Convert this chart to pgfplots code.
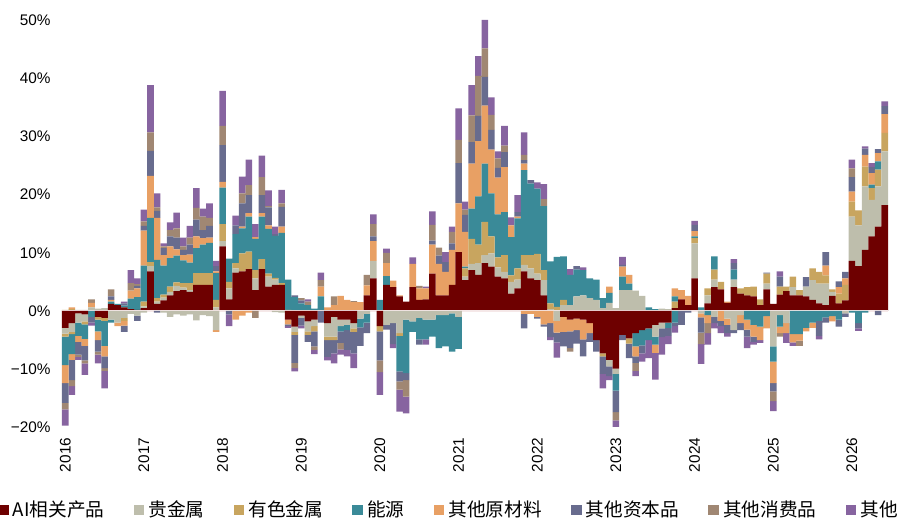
\documentclass[border=0pt]{standalone}
\usepackage{pgfplots}
\usepackage{pgfplotstable}
\pgfplotsset{compat=1.18}
\usepackage{fontspec}
\setmainfont{Liberation Sans}
\newfontfamily\cjk{Noto Sans CJK SC}
\definecolor{cAI}{RGB}{110,0,0}
\definecolor{cPM}{RGB}{190,190,172}
\definecolor{cNF}{RGB}{200,165,95}
\definecolor{cEN}{RGB}{58,138,152}
\definecolor{cRAW}{RGB}{232,160,100}
\definecolor{cCAP}{RGB}{104,108,142}
\definecolor{cCON}{RGB}{160,135,115}
\definecolor{cOTH}{RGB}{135,100,160}
\definecolor{zline}{RGB}{245,232,232}

\pgfplotstableread{
x a b c d e f g h
0 0 0 0.2 0 0 0 0 0
1 0 0 0.3 0 0.3 0 0 0
2 0 0.2 0 0 0 0 0 0
3 0 0.2 0 0 0 0 0 0
4 0 0.6 0 0 0.8 0 0.6 0
5 0 0.4 0 0 0 0 0 0
6 0 0.5 0 0 0 0 0 0
7 1.2 0 0 0.4 0.3 0.6 1.2 0
8 1.0 0 0 0.2 0 0 0 0
9 0.6 0 0 0.3 0 0.4 0 0.3
10 0.3 0 0 1.8 1.4 0 1.3 2.2
11 0.2 0 0 2.2 1.5 0.4 0.3 1.0
12 0.5 0.3 0.8 6.2 6.0 0.8 0.8 2.0
13 6.8 0.9 0.7 7.6 7.2 4.3 3.2 8.1
14 1.2 0.4 0.6 6.6 7.2 1.2 0.6 2.4
15 1.8 0.5 0.5 5.0 1.8 1.2 0.3 0.5
16 2.7 0.6 0.9 4.9 2.0 1.7 1.1 1.3
17 3.4 0.9 0.6 4.6 1.1 2.0 1.6 2.7
18 3.6 0.4 0.8 3.9 0.9 0.9 0.6 1.5
19 3.3 0.3 1.2 3.5 1.4 1.7 1.2 2.0
20 4.5 0 2.0 4.3 2.0 2.9 2.0 3.4
21 4.5 0 2.0 4.9 1.1 1.4 2.3 1.4
22 4.5 0 2.0 5.2 0.9 2.0 1.4 2.5
23 0 0.6 1.3 4.6 0.3 0.9 0 0.9
24 11.1 0.9 2.9 6.3 1.0 6.3 3.3 6.0
25 2.0 1.9 1.1 4.0 0 0 0 0
26 6.6 0.7 0.9 5.0 0 1.5 0 1.7
27 6.8 0 3.1 4.3 0.3 4.0 1.7 2.9
28 7.2 0 3.0 6.0 0.6 3.1 1.7 4.4
29 3.6 2.0 1.4 5.4 0.3 0 0 2.2
30 7.2 0 1.7 7.3 0.6 3.1 3.1 3.7
31 4.2 1.7 0.5 7.7 0.6 3.1 0.2 2.7
32 4.5 0.9 0.3 7.2 0 0.3 0 1.3
33 4.5 0 0.3 8.6 1.1 3.4 0.6 2.3
34 0 0 0.2 5.2 0 0 0 0
35 0 0 0 2.4 0 0.3 0 0
36 0 0 0 1.3 0 0.5 0.4 0
37 0 0 0 1.0 0 0 0.6 0.4
38 0 0 0 0.4 0 0 0 0
39 0 0 0 2.5 1.7 0 1.1 1.3
40 0 0 0 0 0.6 0 0 0
41 0 0 0 0 1.0 0 1.5 0
42 0 0 0 0 2.6 0 0 0
43 0 0 0 0 1.9 0 0 0
44 0 0 0 0 1.5 0 0.2 0
45 0 0 0 0 1.5 0 0 0
46 2.7 0 0 0 1.7 0 1.8 0
47 5.6 3.0 0 0 3.4 0.8 2.1 1.7
48 0 0 0 1.9 0 0 0 0
49 4.5 0 0 1.5 2.2 0 1.8 0.7
50 4.1 0 0 0 1.1 0 0 0
51 2.5 0 0 0 0.2 0 0 0
52 1.6 0 0 0 0 0 0 0
53 4.1 0 0 0 4.0 0 0 1.1
54 1.9 0 0 0 2.0 0 0.4 0
55 2.0 0 0 0 1.9 0 0 0.3
56 6.4 0 0 0 5.0 0.7 2.7 2.3
57 2.7 0 0 0 5.4 1.4 1.4 0
58 2.7 0 0 0 4.0 1.7 0 1.7
59 4.5 0 0 0 6.0 1.1 2.0 0.9
60 10.1 0 0 0 8.4 6.9 4.0 5.4
61 5.3 0.6 1.4 0.3 6.0 2.9 0.9 1.4
62 7.0 1.1 4.3 5.2 7.7 3.7 4.6 5.2
63 6.2 2.0 3.2 8.3 9.5 4.3 6.9 3.4
64 8.2 1.4 5.7 10.0 10.0 4.9 4.9 4.9
65 7.6 2.3 2.9 7.4 7.5 3.4 2.6 3.0
66 5.9 1.6 1.7 7.4 6.3 1.7 1.6 1.2
67 5.6 1.1 2.9 7.4 7.7 2.6 1.1 3.4
68 3.0 2.0 1.1 6.6 2.0 0 0 1.4
69 3.9 1.5 1.9 8.6 0.3 0.8 0 2.9
70 6.8 1.1 1.7 14.6 1.1 0.6 0.9 3.9
71 5.6 1.7 2.3 12.3 0 0.6 0 0
72 5.3 1.1 3.4 11.2 0 0 0 1.1
73 2.7 2.6 1.7 11.0 0 0 1.2 2.6
74 0 0.3 1.0 7.2 0 0 0 0
75 0 0 0.7 8.6 0 0 0 0
76 0 1.0 0.9 7.5 0 0 0 0
77 0 1.0 0 5.2 0 0 0 1.0
78 0 2.5 0 4.6 0 0.6 0 0
79 0 2.7 0 4.3 0 0 0 0.5
80 0 2.2 0 3.4 0 0 0 0
81 0 1.9 0 3.5 0 0 0 0
82 0 0.5 0 1.7 0 0 0 0
83 0 1.4 0 1.7 1.1 0 0 0
84 0 0.5 0 0 0 0 0 0
85 0 3.6 0 2.3 1.7 0.3 0 1.4
86 0 3.6 0 1.1 1.5 0 0 0
87 0 3.5 0 0 0 0 0 0
88 0 2.6 0 0 0 0 0 0
89 0 0 0 0.6 0 0 0 0
90 0 0 0 0.3 0 0 0 0
91 0 0.4 0 0 0 0 0 0
92 0 0.3 0 0 0 0 0 0
93 0.5 0 1.1 0.9 1.4 0 0 0
94 2.0 0 0 0 1.6 0 0 0
95 1.0 0 0 0 1.6 0 0 0
96 5.6 6.0 0.9 0.3 0.9 1.1 0 0.7
97 0 0 0 0.6 0 0 0 0
98 1.3 1.4 1.2 0 0 0 0 0
99 4.1 1.3 1.7 2.3 0 0 0 0
100 3.7 0 1.3 0 0 0 0 0
101 1.4 0 0 0 0.2 0 0 0
102 4.1 1.3 0 1.7 0 1.1 0 0.7
103 3.0 0 0.9 0 0 0 0 0
104 2.7 0 1.4 0 0 0 0 0
105 2.5 0 1.7 0 0 0 0 0
106 1.0 0 1.0 0 0 0 0 0
107 3.7 1.0 1.7 0 0 0.2 0 0
108 1.2 0 0 0 0 0 0 0
109 2.8 0 1.4 0 0 1.7 0 0.9
110 3.4 0 0.8 0 0 0 0 0
111 2.7 1.4 1.8 0 0 0 0 0
112 2.7 0 0.9 0 0 0 0 0
113 2.5 1.7 0 0 0 1.6 0 0
114 1.9 3.4 2.0 0 0 0 0 0
115 1.3 3.4 2.0 0 0 0 0 0
116 1.0 3.7 1.4 0 1.7 2.3 0 0
117 2.6 0.7 0.4 0 0 0 0 0
118 1.3 0 1.7 0 1.1 1.0 0 0
119 1.8 0 2.7 0 1.1 1.1 0 0
120 8.6 7.6 2.6 0 1.7 2.5 1.5 1.5
121 7.7 7.0 2.6 0 0 0 0 0
122 10.5 10.9 3.4 0 2.0 1.1 0 0.4
123 12.8 6.3 2.0 0.6 2.0 1.0 0 0.7
124 14.5 6.9 2.9 1.4 1.4 0.7 0 0
125 18.2 9.2 3.2 0 3.2 1.4 0 0.8
}\pos

\pgfplotstableread{
x a b c d e f g h
0 -2.9 -1.0 -0.5 -4.9 -3.1 -3.4 -1.1 -2.8
1 -2.1 -1.5 -0.4 -3.4 -1.0 -3.5 -1.0 -1.5
2 -0.4 -1.6 0 -2.3 -1.0 -2.2 -0.4 -0.5
3 -0.6 -1.2 -0.5 -2.5 -1.2 -2.5 -0.5 -2.0
4 0 0 0 -1.0 0 -1.0 0 -0.5
5 -1.0 0 -0.5 -2.0 -1.5 -2.0 -0.5 -1.5
6 -1.2 0 -0.5 -4.3 -1.8 -2.0 -0.5 -3.0
7 0 -1.5 0 -0.5 0 0 0 0
8 0 -2.0 0 0 -0.6 0 0 0
9 0 -1.2 -0.5 0 -0.8 -1.1 0 0
10 0 -0.5 0 0 0 0 0 0
11 0 -0.8 0 0 0 -0.9 0 0
12 0 -0.3 0 0 0 0 0 0
13 0 0 0 0 0 0 0 0
14 0 0 0 0 0 -0.3 0 0
15 0 -0.3 0 0 0 0 0 0
16 0 -1.0 0 0 0 0 0 0
17 0 -0.6 0 0 0 0 0 0
18 0 -0.8 0 0 0 0 0 0
19 0 -0.6 0 0 0 0 0 0
20 0 -1.6 0 0 0 0 0 0
21 0 -0.7 0 0 0 0 0 0
22 0 -0.9 0 0 0 0 0 0
23 0 -3.3 0 0 -0.3 0 0 0
24 0 0 0 0 0 0 0 0
25 0 0 0 0 0 -0.6 0 -2.0
26 0 0 0 0 -1.5 0 0 0
27 0 0 0 0 -0.8 0 0 0
28 0 0 0 0 -0.3 0 0 0
29 0 0 0 0 0 0 -1.2 0
30 0 0 0 0 0 0 0 0
31 0 0 0 0 0 0 0 0
32 0 -0.2 0 0 0 0 0 0
33 0 -0.3 0 0 0 0 0 0
34 -1.5 0 0 0 -0.8 -0.3 0 -0.3
35 -2.7 -0.9 -0.5 0 0 -4.8 -0.9 -0.6
36 -0.8 -0.4 0 0 0 -1.3 0 -0.5
37 -1.8 -1.7 -0.6 0 0 -1.2 0 0
38 -1.5 -1.1 -0.9 0 0 -2.6 -0.6 -0.7
39 0 0 0 0 0 -2.0 0 0
40 -2.1 -2.3 -0.6 0 0 -2.9 0 -0.6
41 -1.0 -3.4 -0.6 0 0 -2.3 0 -1.7
42 -1.5 -1.1 0 -0.9 0 -2.0 -1.1 -0.9
43 -1.5 -0.9 0 -0.9 0 -3.4 0 -1.1
44 -2.1 -0.9 -0.6 0 0 -3.7 0 -2.5
45 0 -1.3 0 -1.5 0 -3.2 0 0
46 0 -0.5 0 -1.5 0 -1.8 0 0
47 0 0 0 0 0 0 0 0
48 -2.6 0 -0.9 0 0 -5.0 -2.0 -3.9
49 0 -2.4 0 0 0 -0.8 0 0
50 0 -2.1 0 0 0 -3.6 0 -0.7
51 0 -3.8 -0.5 -6.1 0 -1.7 -1.4 -3.8
52 0 -1.5 0 -9.2 0 -1.2 -2.8 -2.9
53 0 -1.8 0 -1.8 0 0 0 0
54 0 -1.2 0 -3.7 0 -0.9 0 0
55 0 -1.5 0 -3.4 0 0 0 -0.9
56 0 -1.5 0 -2.9 0 0 0 0
57 0 -0.7 0 -5.7 0 0 0 0
58 0 -0.7 0 -5.4 0 0 0 0
59 0 -0.4 0 -6.6 0 0 0 0
60 0 -1.0 0 -5.5 0 0 0 0
61 0 0 0 0 0 0 0 0
62 0 0 0 0 0 0 0 0
63 0 0 0 0 0 0 0 0
64 0 0 0 0 0 0 0 0
65 0 0 0 0 0 0 0 0
66 0 0 0 0 0 0 0 0
67 0 0 0 0 0 0 0 0
68 0 0 0 0 0 0 0 0
69 0 0 0 0 0 0 0 0
70 0 0 0 0 -0.5 -2.5 0 0
71 0 0 0 0 -0.5 0 0 0
72 0 0 0 0 -1.0 -0.3 0 0
73 0 0 0 0 -2.3 -0.4 0 0
74 0 0 0 0 -2.1 -2.4 0 -0.5
75 0 -1.7 0 0 -2.0 -1.7 0 -2.6
76 -1.0 0 0 0 -2.6 -2.5 0 0
77 -1.5 0 0 0 -2.0 -2.9 -0.6 0
78 -1.3 0 0 0 -2.0 -2.3 0 0
79 -1.5 0 0 0 -3.4 -2.9 0 0
80 -2.1 0 0 0 -1.7 -1.5 0 0
81 -5.0 0 0 0 0 -2.0 0 0
82 -7.3 0 -0.5 0 0 -3.0 0 -2.5
83 -8.4 -1.1 0 0 0 -1.7 0 -0.7
84 -9.9 -0.9 0 -2.9 0 -3.7 -1.4 -1.1
85 -4.1 0 0 0 0 -0.9 0 0
86 -4.7 0 -0.9 0 0 -2.5 0 0
87 -3.8 0 0 -2.3 -1.7 -1.1 -1.4 -0.9
88 -3.3 0 0 -2.6 0 -1.4 0 -1.4
89 -3.0 0 0 -2.0 0 0 0 -3.1
90 -2.4 -2.0 0 -1.4 -1.4 0 0 -4.6
91 -2.0 -1.0 0 0 0 -1.5 0 -3.0
92 -2.0 0 0 -0.9 0 -1.4 0 -1.4
93 0 0 0 -2.0 0 -0.6 0 -1.1
94 0 0 0 0 0 -2.4 0 0
95 0 0 0 0 0 -0.3 0 0
96 0 0 0 0 0 0 0 0
97 0 -0.4 0 0 -0.7 -2.6 -2.0 -3.4
98 0 0 0 -0.7 -1.4 0 -1.7 -2.0
99 0 -1.0 0 0 0 -1.1 0 -0.9
100 0 0 0 0 -1.7 -0.9 0 -1.2
101 0 -1.3 0 0 -1.1 -1.4 0 -0.6
102 0 -3.3 0 0 0 -0.5 0 0
103 0 -0.7 0 0 -1.4 -1.2 0 0
104 0 0 0 -1.5 -1.7 -1.2 0 -2.0
105 0 0 0 -2.4 -2.0 -0.9 0 -0.5
106 0 0 0 -2.7 -2.3 0 0 -0.5
107 0 0 0 -0.9 -2.1 0 0 0
108 0 -6.1 0 -2.6 -3.7 -1.4 -1.7 -1.7
109 0 -0.7 0 -2.0 -1.1 0 -0.6 0
110 0 -2.1 0 0 -1.7 0 0 -1.7
111 0 0 0 -4.0 -1.4 0 0 -0.6
112 0 0 0 -4.0 -1.1 0 -0.9 0
113 0 0 0 -2.9 -0.6 0 0 0
114 0 0 0 -2.0 -0.9 0 0 0
115 0 0 0 -1.7 0 -2.6 0 -0.6
116 0 0 0 -1.1 0 -0.9 0 0
117 0 0 0 -0.9 -0.9 0 0 0
118 0 0 0 -1.5 0 -1.2 0 0
119 0 -0.4 0 0 0 -0.6 0 0
120 0 0 0 -0.3 0 0 0 0
121 0 0 0 -2.1 0 -0.9 0 -0.4
122 0 0 0 -0.3 0 0 0 0
123 0 0 0 0 0 0 0 0
124 0 0 0 0 0 -0.7 0 0
125 0 0 0 0 0 0 0 0
}\neg

\pgfplotsset{
  base/.style={
    scale only axis, width=619.5pt, height=314.3pt,
    at={(0pt,0pt)}, anchor=south west,
    xmin=-0.5, xmax=125.5, ymin=-21, ymax=51,
    ybar stacked, bar width=1,
    axis line style={draw=none}, tick style={draw=none},
    major tick length=0pt,
    clip=false,
  },
  bs/.style={fill=#1, draw=none},
}

\begin{document}
\begin{tikzpicture}
\begin{axis}[base,
  xtick={0,12,...,120},
  xticklabels={2016,2017,2018,2019,2020,2021,2022,2023,2024,2025,2026},
  ytick={-20,-10,0,10,20,30,40,50},
  yticklabels={−20\%,−10\%,0\%,10\%,20\%,30\%,40\%,50\%},
  tick label style={font=\fontsize{11.5}{13}\selectfont},
  xticklabel style={rotate=90, anchor=east},
  yticklabel style={xshift=-5pt},
  legend columns=8,
  legend style={at={(axis description cs:0.4697,-0.1833)}, anchor=center, draw=none,
    font=\cjk\fontsize{14}{16}\selectfont,
    /tikz/every even column/.append style={column sep=19pt},
    nodes={inner xsep=3pt}},
  every axis plot post/.append style={legend image code/.code={\fill[##1,draw=none] (0pt,-4pt) rectangle (8pt,4pt);}},
]
\addplot[bs=cAI]  table[x=x,y=a]{\pos};
\addplot[bs=cPM]  table[x=x,y=b]{\pos};
\addplot[bs=cNF]  table[x=x,y=c]{\pos};
\addplot[bs=cEN]  table[x=x,y=d]{\pos};
\addplot[bs=cRAW] table[x=x,y=e]{\pos};
\addplot[bs=cCAP] table[x=x,y=f]{\pos};
\addplot[bs=cCON] table[x=x,y=g]{\pos};
\addplot[bs=cOTH] table[x=x,y=h]{\pos};
\legend{AI相关产品,贵金属,有色金属,能源,其他原材料,其他资本品,其他消费品,其他}
\end{axis}
\begin{axis}[base, hide axis]
\addplot[bs=cAI]  table[x=x,y=a]{\neg};
\addplot[bs=cPM]  table[x=x,y=b]{\neg};
\addplot[bs=cNF]  table[x=x,y=c]{\neg};
\addplot[bs=cEN]  table[x=x,y=d]{\neg};
\addplot[bs=cRAW] table[x=x,y=e]{\neg};
\addplot[bs=cCAP] table[x=x,y=f]{\neg};
\addplot[bs=cCON] table[x=x,y=g]{\neg};
\addplot[bs=cOTH] table[x=x,y=h]{\neg};
\draw[zline, line width=1.3pt] (axis cs:-0.5,0) -- (axis cs:125.5,0);
\end{axis}
\pgfresetboundingbox
\path[use as bounding box] (-46.5pt,-73.35pt) rectangle (628.5pt,324.9pt);
\end{tikzpicture}
\end{document}
